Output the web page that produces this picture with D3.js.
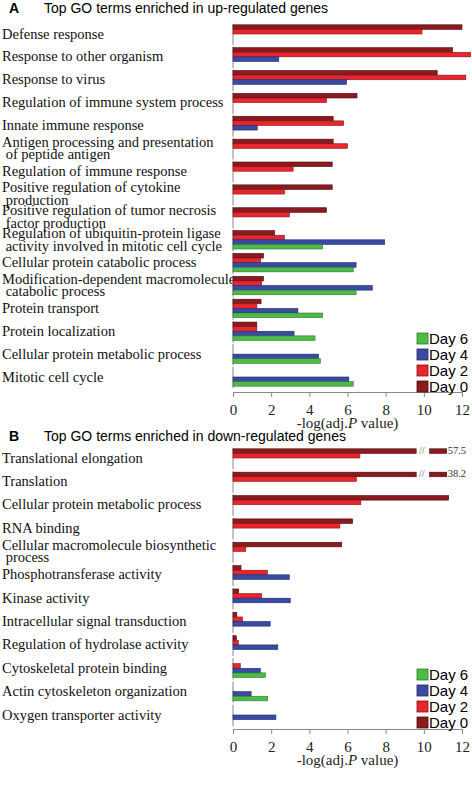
<!DOCTYPE html>
<html><head><meta charset="utf-8">
<script src="https://cdn.jsdelivr.net/npm/d3@7"></script>
<style>body{margin:0;background:#fff}</style>
</head><body><svg id="c" width="472" height="800"></svg>
<script>
var days = ["Day 0", "Day 2", "Day 4", "Day 6"];
var colors = ["#8b1a1f", "#e8262d", "#3b4ba3", "#4dba4a"];
var strokes = ["#4a0c0e", "#8a1013", "#1f2a66", "#2b7a2a"];
var ticks = [0, 2, 4, 6, 8, 10, 12];

var upTerms = ["Defense response", "Response to other organism", "Response to virus",
  "Regulation of immune system process", "Innate immune response",
  "Antigen processing and presentation| of peptide antigen", "Regulation of immune response",
  "Positive regulation of cytokine| production", "Positive regulation of tumor necrosis| factor production",
  "Regulation of ubiquitin-protein ligase| activity involved in mitotic cell cycle",
  "Cellular protein catabolic process", "Modification-dependent macromolecule| catabolic process",
  "Protein transport", "Protein localization", "Cellular protein metabolic process", "Mitotic cell cycle"];
var upDay0 = [12.0, 11.5, 10.7, 6.5, 5.25, 5.25, 5.2, 5.2, 4.9, 2.18, 1.6, 1.6, 1.47, 1.25, 0, 0];
var upDay2 = [9.9, 12.45, 12.2, 4.9, 5.8, 6.0, 3.15, 2.7, 2.95, 2.7, 1.45, 1.5, 1.25, 1.25, 0, 0];
var upDay4 = [0, 2.4, 5.95, 0, 1.27, 0, 0, 0, 0, 7.95, 6.45, 7.3, 3.4, 3.2, 4.48, 6.07];
var upDay6 = [0, 0, 0, 0, 0, 0, 0, 0, 0, 4.7, 6.3, 6.45, 4.7, 4.3, 4.58, 6.3];

var downTerms = ["Translational elongation", "Translation", "Cellular protein metabolic process",
  "RNA binding", "Cellular macromolecule biosynthetic| process", "Phosphotransferase activity",
  "Kinase activity", "Intracellular signal transduction", "Regulation of hydrolase activity",
  "Cytoskeletal protein binding", "Actin cytoskeleton organization", "Oxygen transporter activity"];
var downDay0 = [57.5, 38.2, 11.3, 6.27, 5.7, 0.42, 0.3, 0.2, 0.18, 0, 0, 0];
var downDay2 = [6.65, 6.47, 6.7, 5.6, 0.67, 1.8, 1.5, 0.5, 0.28, 0.38, 0, 0];
var downDay4 = [0, 0, 0, 0, 0, 2.95, 3.0, 1.95, 2.35, 1.43, 0.95, 2.25];
var downDay6 = [0, 0, 0, 0, 0, 0, 0, 0, 0, 1.7, 1.82, 0];

var svg = d3.select("#c");
var x = d3.scaleLinear().domain([0, 12]).range([233, 462]);

function panel(letter, title, titleY, terms, series, y0, y1, axisY, legendY) {
  var y = d3.scalePoint().domain(terms).range([y0, y1]);
  svg.append("text").attr("x", 9).attr("y", titleY).attr("font-family", "Liberation Sans")
    .attr("font-weight", "bold").attr("font-size", 14).text(letter);
  svg.append("text").attr("x", 44).attr("y", titleY).attr("font-family", "Liberation Sans")
    .attr("font-size", 14).text(title);
  var bh = 4.6, gh = bh * 4;
  terms.forEach(function(t, i) {
    var cy = y(t), top = cy - gh / 2;
    var lines = t.split("|");
    var lab = svg.append("text").attr("font-family", "Liberation Serif").attr("font-size", 14.5).attr("fill", "#111");
    lines.forEach(function(l, k) {
      lab.append("tspan").attr("x", 2).attr("y", cy + 4.5 + (k - (lines.length - 1) / 2) * 12.5)
        .attr("xml:space", "preserve").text(l);
    });
    svg.append("line").attr("x1", x(0)).attr("x2", x(0)).attr("y1", top - 1).attr("y2", top + gh + 2)
      .attr("stroke", "#888");
    series.forEach(function(s, d) {
      var v = s[i];
      if (!v) return;
      var by = top + d * bh;
      var broken = v > 12.5;
      var w = broken ? x(9.6) - x(0) : x(v) - x(0);
      svg.append("rect").attr("x", x(0)).attr("y", by).attr("width", w).attr("height", bh)
        .attr("fill", colors[d]).attr("stroke", strokes[d]).attr("stroke-width", 0.6);
      if (broken) {
        svg.append("text").attr("x", x(9.75)).attr("y", by + 5).attr("font-family", "Liberation Serif")
          .attr("font-size", 10).attr("fill", "#555").text("//");
        svg.append("rect").attr("x", x(10.3)).attr("y", by).attr("width", x(11.2) - x(10.3)).attr("height", bh)
          .attr("fill", colors[d]).attr("stroke", strokes[d]).attr("stroke-width", 0.6);
        svg.append("text").attr("x", x(11.25)).attr("y", by + 5).attr("font-family", "Liberation Serif")
          .attr("font-size", 10.5).attr("fill", "#333").text(v.toFixed(1));
      }
    });
  });
  var ax = svg.append("g").attr("transform", "translate(0," + axisY + ")")
    .call(d3.axisBottom(x).tickValues(ticks).tickSize(5).tickFormat(d3.format("d")));
  ax.select(".domain").attr("stroke", "#888");
  ax.selectAll(".tick line").attr("stroke", "#888");
  ax.selectAll("text").attr("font-family", "Liberation Serif").attr("font-size", 15).attr("fill", "#222").attr("dy", "1em");
  var xl = svg.append("text").attr("x", x(6)).attr("y", axisY + 36).attr("text-anchor", "middle")
    .attr("font-family", "Liberation Serif").attr("font-size", 15).attr("fill", "#222");
  xl.append("tspan").text("-log(adj.");
  xl.append("tspan").attr("font-style", "italic").text("P");
  xl.append("tspan").text(" value)");
  [3, 2, 1, 0].forEach(function(d, k) {
    var ly = legendY + k * 16;
    svg.append("rect").attr("x", 417).attr("y", ly - 11).attr("width", 11).attr("height", 11)
      .attr("fill", colors[d]).attr("stroke", strokes[d]).attr("stroke-width", 0.8);
    svg.append("text").attr("x", 429).attr("y", ly).attr("font-family", "Liberation Sans")
      .attr("font-size", 15).text(days[d]);
  });
}

panel("A", "Top GO terms enriched in up-regulated genes", 13, upTerms,
  [upDay0, upDay2, upDay4, upDay6], 34, 377, 392, 344);
panel("B", "Top GO terms enriched in down-regulated genes", 441, downTerms,
  [downDay0, downDay2, downDay4, downDay6], 458, 715, 729, 680);
</script></body></html>
